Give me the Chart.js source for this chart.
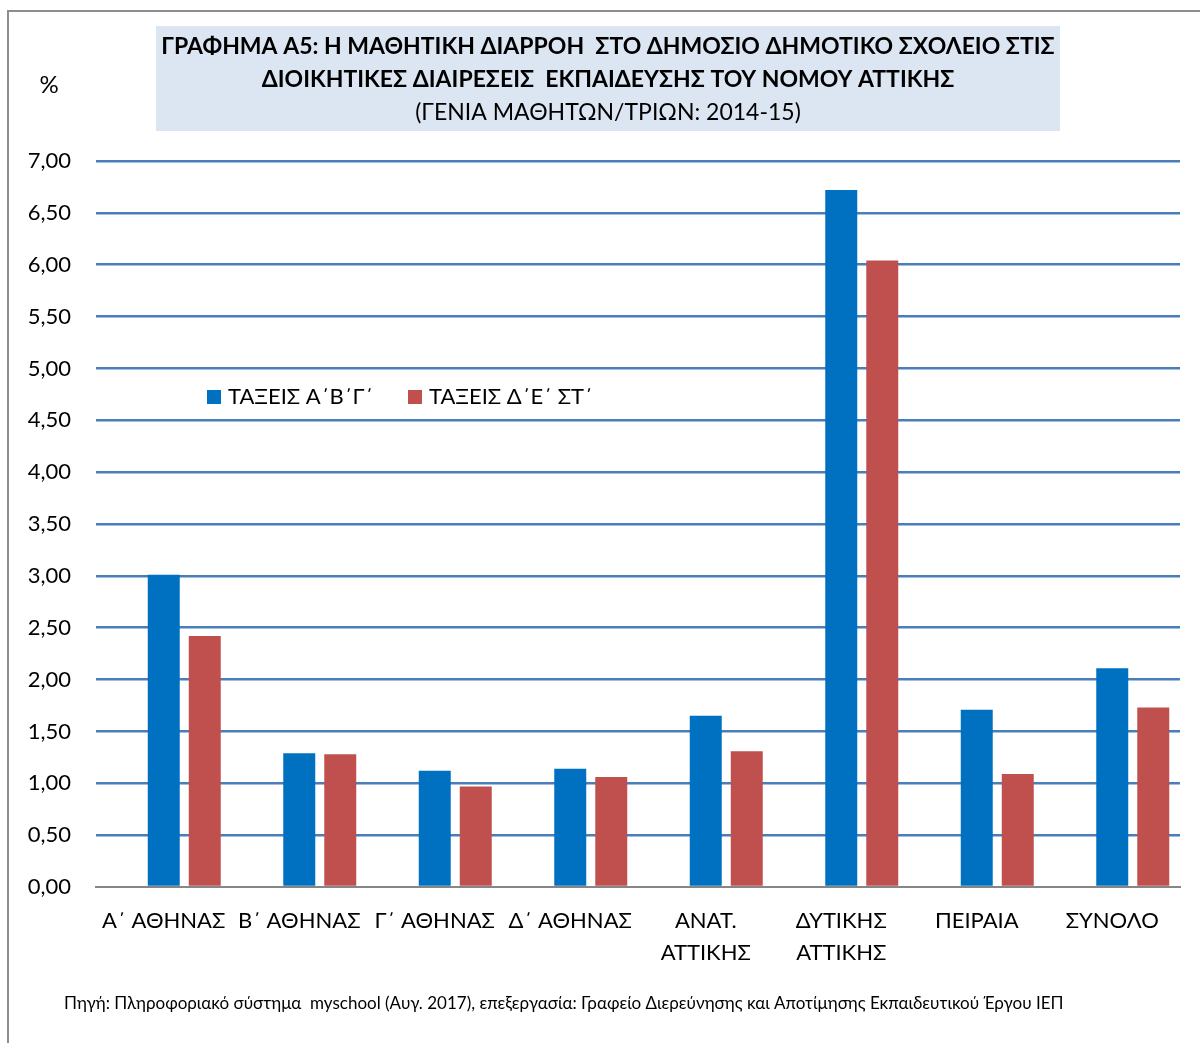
<!DOCTYPE html>
<html>
<head>
<meta charset="utf-8">
<script src="https://cdn.jsdelivr.net/npm/chart.js@4.4.1/dist/chart.umd.min.js"></script>
<style>
html,body{margin:0;padding:0;background:#fff;}
#wrap{position:relative;width:1200px;height:1043px;}
canvas{display:block;}
</style>
</head>
<body>
<div id="wrap"><canvas id="c" width="1200" height="1043"></canvas></div>
<script>
const categories = [
  'Α΄ ΑΘΗΝΑΣ', 'Β΄ ΑΘΗΝΑΣ', 'Γ΄ ΑΘΗΝΑΣ', 'Δ΄ ΑΘΗΝΑΣ',
  ['ΑΝΑΤ.', 'ΑΤΤΙΚΗΣ'], ['ΔΥΤΙΚΗΣ', 'ΑΤΤΙΚΗΣ'], 'ΠΕΙΡΑΙΑ', 'ΣΥΝΟΛΟ'
];
const seriesNames = ['ΤΑΞΕΙΣ Α΄Β΄Γ΄', 'ΤΑΞΕΙΣ Δ΄Ε΄ ΣΤ΄'];
const gradesABC = [3.01, 1.29, 1.12, 1.14, 1.65, 6.72, 1.71, 2.11];
const gradesDEF = [2.42, 1.28, 0.97, 1.06, 1.31, 6.04, 1.09, 1.73];
const emptySeries = [null, null, null, null, null, null, null, null];
const titleLines = [
  'ΓΡΑΦΗΜΑ Α5: Η ΜΑΘΗΤΙΚΗ ΔΙΑΡΡΟΗ  ΣΤΟ ΔΗΜΟΣΙΟ ΔΗΜΟΤΙΚΟ ΣΧΟΛΕΙΟ ΣΤΙΣ',
  'ΔΙΟΙΚΗΤΙΚΕΣ ΔΙΑΙΡΕΣΕΙΣ  ΕΚΠΑΙΔΕΥΣΗΣ ΤΟΥ ΝΟΜΟΥ ΑΤΤΙΚΗΣ'
];
const subtitleText = '(ΓΕΝΙΑ ΜΑΘΗΤΩΝ/ΤΡΙΩΝ: 2014-15)';
const yUnit = '%';
const sourceText = 'Πηγή: Πληροφοριακό σύστημα  myschool (Αυγ. 2017), επεξεργασία: Γραφείο Διερεύνησης και Αποτίμησης Εκπαιδευτικού Έργου ΙΕΠ';
const colors = ['#0070c0', '#c0504d'];

const FONT = 'Lato, "Open Sans", sans-serif';

const decor = {
  id: 'decor',
  beforeDraw(chart) {
    const ctx = chart.ctx;
    ctx.save();
    ctx.fillStyle = '#fff';
    ctx.fillRect(0, 0, chart.width, chart.height);
    // outer border
    ctx.strokeStyle = '#8e8e8e';
    ctx.lineWidth = 2;
    ctx.strokeRect(8, 11, 1300, 1100);
    // title box
    ctx.fillStyle = '#dce6f2';
    ctx.fillRect(156, 26, 904, 105);
    ctx.fillStyle = '#000';
    ctx.textAlign = 'center';
    ctx.textBaseline = 'middle';
    ctx.font = 'bold 23px ' + FONT;
    ctx.fillText(titleLines[0], 608, 47);
    ctx.fillText(titleLines[1], 608, 80);
    ctx.font = '23px ' + FONT;
    ctx.fillText(subtitleText, 608, 113);
    // unit
    ctx.font = '24px ' + FONT;
    ctx.fillText(yUnit, 49, 85);
    // source
    ctx.font = '17px ' + FONT;
    ctx.textAlign = 'left';
    ctx.fillText(sourceText, 64, 1004);
    ctx.restore();
  },
  afterDraw(chart) {
    const ctx = chart.ctx;
    ctx.save();
    ctx.textBaseline = 'middle';
    ctx.textAlign = 'left';
    ctx.font = '22px ' + FONT;
    const xs = [207, 408];
    const y = 397;
    chart.data.datasets.filter(d => d.label).forEach((d, i) => {
      ctx.fillStyle = d.backgroundColor;
      ctx.fillRect(xs[i], y - 7, 14, 14);
      ctx.fillStyle = '#000';
      ctx.fillText(d.label, xs[i] + 21, y);
    });
    ctx.restore();
  }
};

new Chart(document.getElementById('c'), {
  type: 'bar',
  data: {
    labels: categories,
    datasets: [
      { label: '', data: emptySeries, backgroundColor: 'rgba(0,0,0,0)' },
      { label: seriesNames[0], data: gradesABC, backgroundColor: colors[0] },
      { label: seriesNames[1], data: gradesDEF, backgroundColor: colors[1] }
    ]
  },
  options: {
    responsive: false,
    animation: false,
    devicePixelRatio: 1,
    layout: { padding: { top: 161, left: 0, right: 20, bottom: 0 } },
    datasets: { bar: { categoryPercentage: 0.908, barPercentage: 0.78 } },
    plugins: {
      legend: { display: false },
      title: { display: false },
      tooltip: { enabled: false }
    },
    scales: {
      x: {
        grid: { display: false, drawTicks: false },
        border: { display: true, color: '#868686', width: 2 },
        ticks: {
          color: '#000',
          font: { family: FONT, size: 22, lineHeight: 1.45 },
          padding: 18,
          maxRotation: 0,
          autoSkip: false
        },
        afterFit(scale) { scale.height = 156; }
      },
      y: {
        min: 0,
        max: 7,
        border: { display: false },
        grid: {
          drawTicks: false,
          color: ctx => ctx.tick && ctx.tick.value === 0 ? 'rgba(0,0,0,0)' : '#4a7ebb',
          lineWidth: 2.5
        },
        ticks: {
          stepSize: 0.5,
          color: '#000',
          padding: 25,
          font: { family: FONT, size: 22 },
          callback: v => v.toFixed(2).replace('.', ',')
        },
        afterFit(scale) { scale.width = 96; }
      }
    }
  },
  plugins: [decor]
});
</script>
</body>
</html>
